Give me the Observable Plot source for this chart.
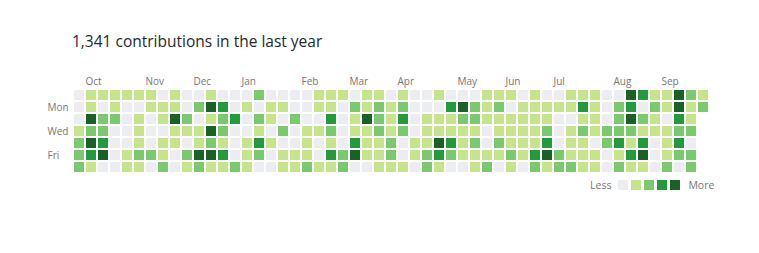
<!DOCTYPE html>
<html>
<head>
<meta charset="utf-8">
<script src="https://cdn.jsdelivr.net/npm/d3@7"></script>
<script src="https://cdn.jsdelivr.net/npm/@observablehq/plot@0.6"></script>
<style>
  html, body { margin: 0; padding: 0; background: #fff; }
  #wrap { position: relative; width: 759px; height: 253px; overflow: hidden; font-family: "Open Sans", sans-serif; }
  #title { position: absolute; left: 72px; top: 33px; font-size: 15.5px; line-height: 16px; color: #24292e; white-space: nowrap; }
  #chart { position: absolute; left: 0; top: 0; }
  #legend { position: absolute; left: 590px; top: 179px; height: 12px; display: flex; align-items: center; font-size: 10.5px; color: #767676; white-space: nowrap; }
  #legend .sw { width: 10px; height: 10px; margin-right: 3px; display: inline-block; }
  #legend .less { margin-right: 7px; }
  #legend .more { margin-left: 5px; }
</style>
</head>
<body>
<div id="wrap">
  <div id="chart"></div>
  <div id="title">1,341 contributions in the last year</div>
  <div id="legend"></div>
</div>
<script>
// Contribution levels (0-4), one array per weekday, one entry per week (Sep 25 2016 – Sep 25 2017)
const sun = [0,1,1,1,1,1,1,0,1, 0,0,1,0,0,0,2,0,0, 0,0,1,1,1,0,1,1,0, 1,0,0,1,0,0,0,1,1, 1,0,1,0,0,1,1,1,0, 0,4,3,1,1,4,2,1];
const mon = [0,1,0,1,0,0,1,1,1, 0,2,4,3,0,1,0,1,1, 0,0,1,1,0,2,1,2,1, 2,0,0,0,3,4,2,1,2, 0,1,1,1,1,1,3,1,0, 2,3,0,2,1,4,1,2];
const tue = [0,4,2,2,0,1,0,1,4, 2,0,1,2,3,0,2,1,0, 2,0,0,3,0,1,4,2,1, 3,0,1,1,1,2,2,1,1, 1,1,1,1,0,0,1,1,0, 2,4,2,1,0,3,1];
const wed = [1,2,2,0,0,1,0,0,1, 1,1,4,2,0,0,1,0,2, 0,1,1,2,0,1,1,2,1, 2,0,1,1,1,1,1,0,1, 1,1,1,2,0,1,2,1,2, 2,2,1,1,1,2,2];
const thu = [2,4,3,0,0,1,0,1,1, 0,1,2,1,0,1,3,1,0, 0,1,0,1,0,3,1,1,2, 0,1,1,4,3,1,2,0,2, 1,1,1,3,0,1,1,0,2, 3,1,3,0,1,3,0];
const fri = [2,3,4,0,1,2,2,1,0, 2,4,4,3,0,1,2,0,1, 1,1,0,3,2,4,1,1,2, 0,1,2,3,2,1,1,1,1, 2,1,3,4,2,1,1,1,0, 1,3,4,0,1,2,2];
const sat = [2,1,0,0,1,1,0,2,0, 1,2,1,1,2,1,0,0,1, 1,2,1,1,2,0,0,1,1, 1,0,2,1,0,0,1,2,0, 1,0,2,1,2,2,1,1,0, 2,1,1,0,2,0,2];

const monthLabels = ["Oct","Nov","Dec","Jan","Feb","Mar","Apr","May","Jun","Jul","Aug","Sep"];
const monthWeeks  = [1, 6, 10, 14, 19, 23, 27, 32, 36, 40, 45, 49];
const dayLabels = ["Mon","Wed","Fri"];
const dayRows   = [1, 3, 5];
const levels  = [0, 1, 2, 3, 4];
const palette = ["#ebedf0", "#c6e48b", "#7bc96f", "#239a3b", "#196127"];

const rows = [sun, mon, tue, wed, thu, fri, sat];
const cells = [];
rows.forEach((row, day) => row.forEach((level, week) => cells.push({week, day, level})));

const plot = Plot.plot({
  width: 759,
  height: 253,
  marginLeft: 73,
  marginRight: 50,
  marginTop: 89,
  marginBottom: 80,
  x: {type: "band", domain: d3.range(53), padding: 0, axis: null},
  y: {type: "band", domain: d3.range(7), padding: 0, axis: null},
  color: {type: "ordinal", domain: levels, range: palette},
  style: {fontFamily: "'Open Sans', sans-serif", fontSize: "10px", background: "transparent", overflow: "visible"},
  marks: [
    Plot.cell(cells, {x: "week", y: "day", fill: "level", inset: 1}),
    Plot.text(monthLabels, {x: monthWeeks, text: d => d, frameAnchor: "top", dy: -12, dx: -6, textAnchor: "start", fill: "#767676"}),
    Plot.text(dayLabels, {y: dayRows, text: d => d, frameAnchor: "left", dx: -26, textAnchor: "start", fill: "#767676"})
  ]
});
document.getElementById("chart").appendChild(plot);

const legend = document.getElementById("legend");
const less = document.createElement("span"); less.className = "less"; less.textContent = "Less"; legend.appendChild(less);
palette.forEach(c => { const s = document.createElement("span"); s.className = "sw"; s.style.background = c; legend.appendChild(s); });
const more = document.createElement("span"); more.className = "more"; more.textContent = "More"; legend.appendChild(more);
</script>
</body>
</html>
